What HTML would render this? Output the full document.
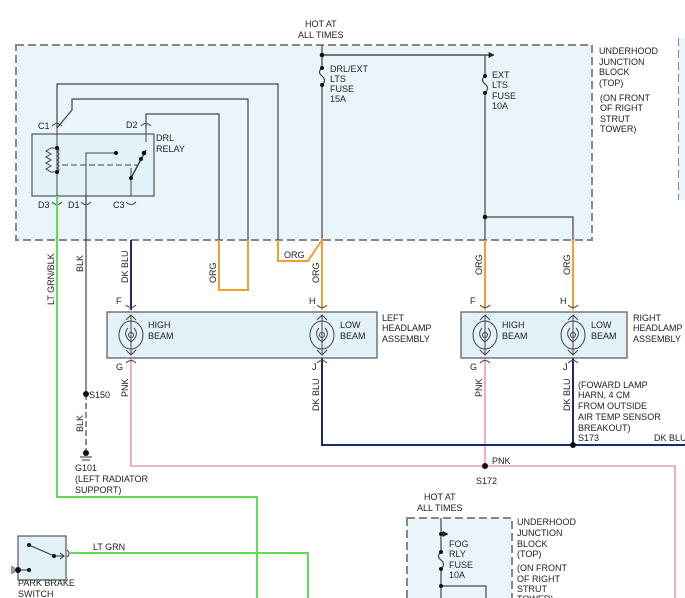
<!DOCTYPE html>
<html><head><meta charset="utf-8"><style>
body{margin:0;background:#fff}
svg{display:block}
text{font-family:"Liberation Sans",Arial,sans-serif;font-size:9px;fill:#222}
</style></head><body>
<svg width="685" height="598" viewBox="0 0 685 598" xmlns="http://www.w3.org/2000/svg">
<defs>
<marker id="ar" viewBox="0 0 10 10" refX="9" refY="5" markerWidth="5" markerHeight="5" orient="auto"><path d="M0 0L10 5L0 10Z" fill="#222"/></marker>
</defs>
<rect x="16" y="45" width="576" height="195" fill="#e9f5fb" stroke="#888" stroke-width="2" stroke-dasharray="8,4"/>
<path d="M679 38V200" stroke="#888" stroke-width="2" stroke-dasharray="8,4"/>
<rect x="679" y="38" width="6" height="162" fill="#e9f5fb"/>
<rect x="407" y="518" width="105" height="85" fill="#e9f5fb" stroke="#888" stroke-width="2" stroke-dasharray="8,4"/>
<g fill="none" stroke="#444" stroke-width="1.2">
<path d="M322 45V68M322 85V240M322 55H493"/>
<path d="M322 55H494" marker-end="url(#ar)"/>
<path d="M322 68q-5 4 0 8q5 4 0 9"/>
<path d="M485 55V76M485 93V240M485 217H573V240"/>
<path d="M485 76q-5 4 0 8q5 4 0 9"/>
<path d="M57 128V84H278V240"/>
<path d="M57 128L72 110V99H248V240"/>
<path d="M146 128V114H219V240"/>
<path d="M86 196V394"/>
</g>
<g fill="#111">
<circle cx="322" cy="55" r="2.3"/><circle cx="322" cy="68" r="2"/><circle cx="322" cy="85" r="2"/>
<circle cx="485" cy="76" r="2"/><circle cx="485" cy="93" r="2"/><circle cx="485" cy="217" r="2.3"/>
</g>
<rect x="32" y="134" width="122" height="62" fill="#e3f1f8" stroke="#555" stroke-width="1.2"/>
<g fill="none" stroke="#444" stroke-width="1">
<path d="M57 124V196M146 124V142M131 168V196"/>
<path d="M57 148H51l-5 3 5 3-5 3 5 3-5 3 5 3-5 3 5 3H57"/>
<path d="M57 148q4 2 0 4q4 2 0 4q4 2 0 4q4 2 0 4q4 2 0 4q4 2 0 4"/>
<path d="M62 165H137" stroke-dasharray="6,3"/>
<path d="M86 196V153H116"/>
<path d="M131 178L146 150" stroke-width="1.5"/>
<path d="M52 126q5-5 10 0M141 126q5-5 10 0M52 202q5 5 10 0M81 202q5 5 10 0M126 202q5 5 10 0"/>
</g>
<g fill="#111"><circle cx="57" cy="148" r="2"/><circle cx="57" cy="172" r="2"/><circle cx="116" cy="153" r="2"/><circle cx="131" cy="178" r="2"/><circle cx="144" cy="153" r="2.3"/><circle cx="141" cy="159" r="2"/></g>
<text x="38" y="129">C1</text><text x="126" y="128">D2</text><text x="156" y="141">DRL</text><text x="156" y="152">RELAY</text>
<text x="38" y="208">D3</text><text x="68" y="208">D1</text><text x="113" y="208">C3</text>
<text x="330" y="72">DRL/EXT</text><text x="330" y="82">LTS</text><text x="330" y="92">FUSE</text><text x="330" y="102">15A</text>
<text x="492" y="78">EXT</text><text x="492" y="88">LTS</text><text x="492" y="99">FUSE</text><text x="492" y="109">10A</text>
<text x="305" y="27">HOT AT</text><text x="298" y="38">ALL TIMES</text>
<text x="599" y="54">UNDERHOOD</text><text x="599" y="65">JUNCTION</text><text x="599" y="75">BLOCK</text><text x="599" y="86">(TOP)</text>
<text x="600" y="101">(ON FRONT</text><text x="600" y="111">OF RIGHT</text><text x="600" y="122">STRUT</text><text x="600" y="132">TOWER)</text>
<g fill="none" stroke-width="2">
<path d="M219 240V290H248V240" stroke="#f0a030"/>
<path d="M278 240V261H308L322 240V310" stroke="#f0a030"/>
<path d="M485 240V310M573 240V310" stroke="#f0a030"/>
<path d="M131 240V310" stroke="#1a2a6a"/>
<path d="M57 196V497H257V598" stroke="#60dd50"/>
<path d="M70 553H308V598" stroke="#60dd50"/>
<path d="M131 358V466H675V598M485 358V466" stroke="#ec9ab8" stroke-width="1.6"/>
<path d="M322 358V445H685M573 358V445" stroke="#1a2a6a"/>
</g>
<path d="M86 394V455" stroke="#444" stroke-width="1.2" stroke-dasharray="6,3"/>
<g fill="#111"><circle cx="86" cy="394" r="3"/><circle cx="485" cy="466" r="3"/><circle cx="573" cy="445" r="3"/><circle cx="86" cy="453" r="3"/></g>
<path d="M80 457H92M82 460H90" stroke="#333"/>
<g font-size="9">
<text transform="translate(54,305) rotate(-90)">LT GRN/BLK</text>
<text transform="translate(83,272) rotate(-90)">BLK</text>
<text transform="translate(128,283) rotate(-90)">DK BLU</text>
<text transform="translate(216,283) rotate(-90)">ORG</text>
<text transform="translate(319,283) rotate(-90)">ORG</text>
<text transform="translate(482,275) rotate(-90)">ORG</text>
<text transform="translate(570,275) rotate(-90)">ORG</text>
<text transform="translate(128,397) rotate(-90)">PNK</text>
<text transform="translate(319,411) rotate(-90)">DK BLU</text>
<text transform="translate(482,397) rotate(-90)">PNK</text>
<text transform="translate(570,411) rotate(-90)">DK BLU</text>
<text transform="translate(83,432) rotate(-90)">BLK</text>
</g>
<text x="284" y="258">ORG</text>
<text x="89" y="398">S150</text>
<text x="75" y="471">G101</text><text x="75" y="482">(LEFT RADIATOR</text><text x="75" y="493">SUPPORT)</text>
<text x="492" y="464">PNK</text><text x="476" y="484">S172</text>
<text x="578" y="388">(FOWARD LAMP</text><text x="578" y="398">HARN, 4 CM</text><text x="578" y="409">FROM OUTSIDE</text><text x="578" y="420">AIR TEMP SENSOR</text><text x="578" y="431">BREAKOUT)</text><text x="578" y="441">S173</text>
<text x="654" y="441">DK BLU</text>
<rect x="107" y="312" width="270" height="46" fill="#e3f1f8" stroke="#555" stroke-width="1.2"/>
<rect x="461" y="312" width="166" height="46" fill="#e3f1f8" stroke="#555" stroke-width="1.2"/>
<g fill="none" stroke="#444" stroke-width="1">
<g id="b"><ellipse cx="131" cy="335" rx="12" ry="14"/><path d="M131 316V354M126 320l5-5 5 5M126 350l5 5 5-5M128 328q-6 7 3 14M134 328q6 7-3 14"/><circle cx="131" cy="335" r="2.5"/><path d="M126 305q5 5 10 0M126 363q5-5 10 0"/></g>
<use href="#b" x="191"/><use href="#b" x="354"/><use href="#b" x="442"/>
</g>
<text x="116" y="304">F</text><text x="309" y="304">H</text><text x="470" y="304">F</text><text x="560" y="304">H</text>
<text x="116" y="370">G</text><text x="312" y="370">J</text><text x="470" y="370">G</text><text x="563" y="370">J</text>
<text x="148" y="328">HIGH</text><text x="148" y="339">BEAM</text><text x="340" y="328">LOW</text><text x="340" y="339">BEAM</text>
<text x="502" y="328">HIGH</text><text x="502" y="339">BEAM</text><text x="591" y="328">LOW</text><text x="591" y="339">BEAM</text>
<text x="382" y="321">LEFT</text><text x="382" y="331">HEADLAMP</text><text x="382" y="342">ASSEMBLY</text>
<text x="633" y="321">RIGHT</text><text x="633" y="331">HEADLAMP</text><text x="633" y="342">ASSEMBLY</text>
<rect x="18" y="536" width="48" height="44" fill="#e3f1f8" stroke="#555" stroke-width="1.2"/>
<g stroke="#333" fill="none"><path d="M29 545L54 556H64M60 553l4 3-4 3M67 550q4 3 0 7M18 570H29M12 566V574M14 567V573"/></g>
<g fill="#111"><circle cx="29" cy="545" r="2"/><circle cx="54" cy="556" r="2"/><circle cx="18" cy="570" r="3"/><circle cx="29" cy="570" r="2"/></g>
<text x="18" y="586">PARK BRAKE</text><text x="18" y="597">SWITCH</text>
<text x="93" y="550">LT GRN</text>
<g stroke="#444" fill="none" stroke-width="1.2"><path d="M441 518V552M441 569V598M441 586H486V598"/><path d="M441 552q-5 4 0 8q5 4 0 9"/><path d="M441 534H448" marker-end="url(#ar)"/></g>
<g fill="#111"><circle cx="441" cy="534" r="2"/><circle cx="441" cy="552" r="2"/><circle cx="441" cy="569" r="2"/><circle cx="441" cy="586" r="2"/></g>
<text x="424" y="500">HOT AT</text><text x="417" y="511">ALL TIMES</text>
<text x="449" y="547">FOG</text><text x="449" y="557">RLY</text><text x="449" y="568">FUSE</text><text x="449" y="578">10A</text>
<text x="517" y="525">UNDERHOOD</text><text x="517" y="536">JUNCTION</text><text x="517" y="547">BLOCK</text><text x="517" y="557">(TOP)</text>
<text x="517" y="571">(ON FRONT</text><text x="517" y="582">OF RIGHT</text><text x="517" y="592">STRUT</text><text x="517" y="602">TOWER)</text>
</svg>
</body></html>
